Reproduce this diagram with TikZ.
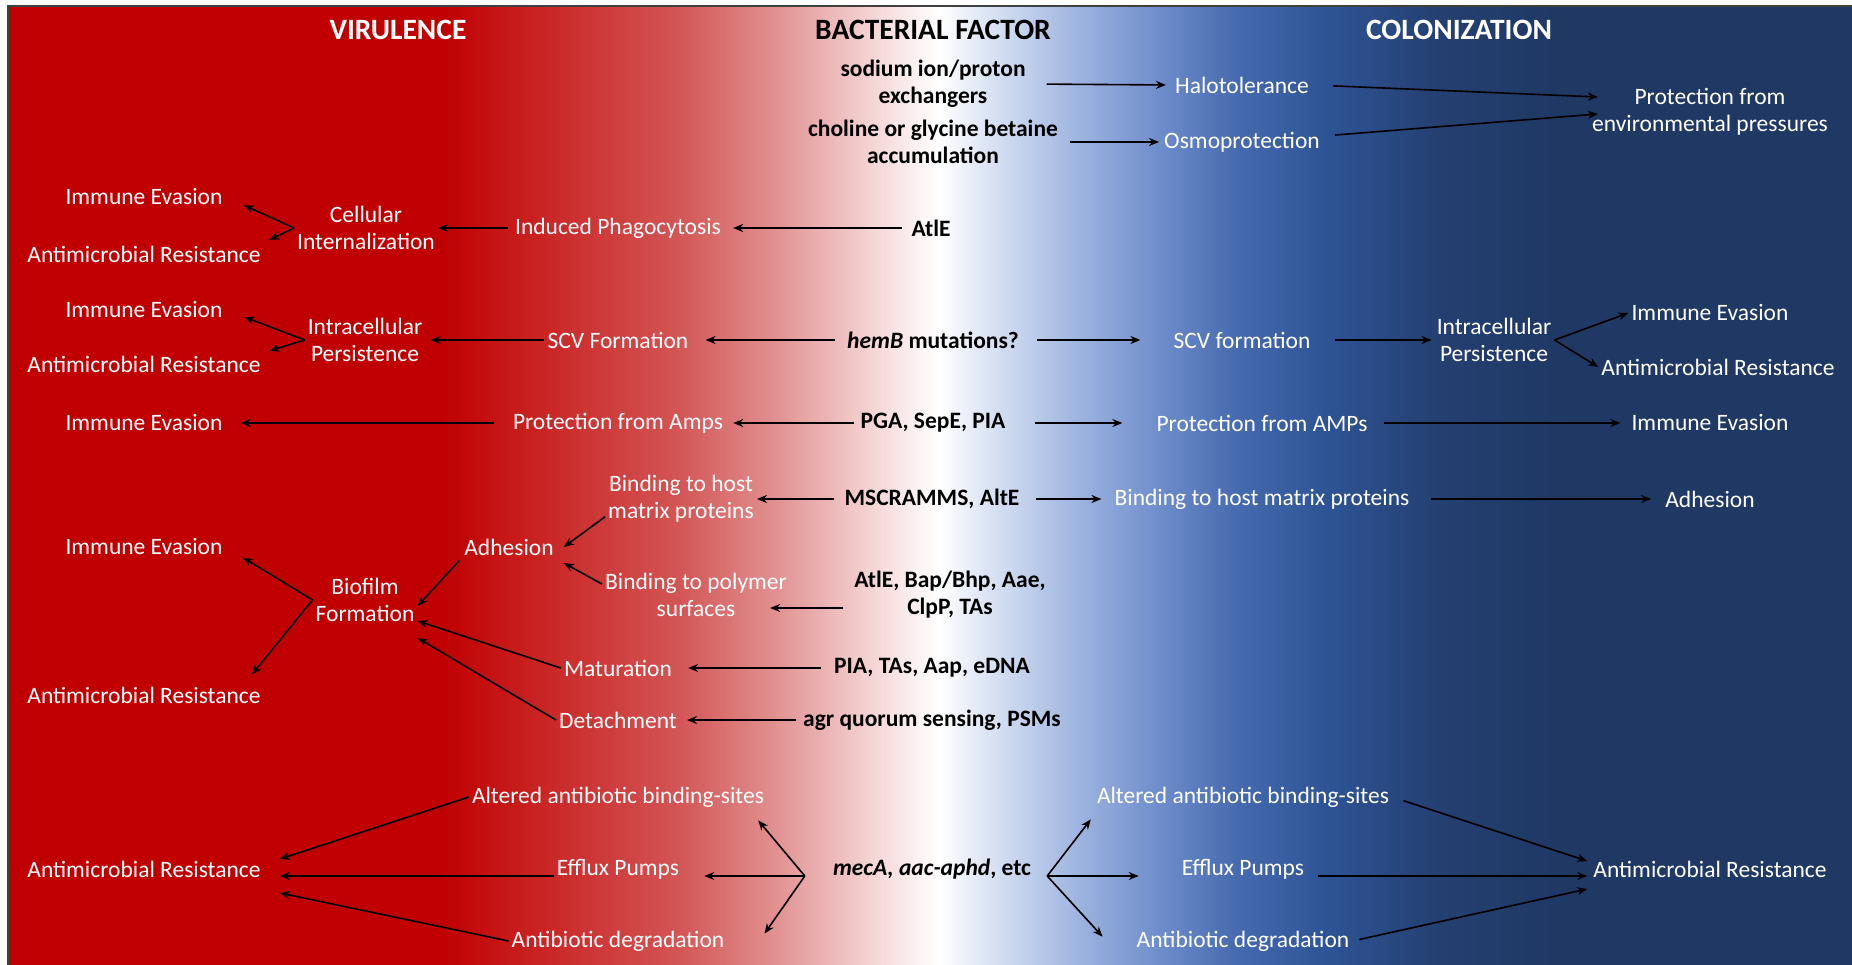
\documentclass[tikz,border=0pt]{standalone}
\usepackage{fontspec}
\setmainfont{Carlito}
\usetikzlibrary{arrows.meta,backgrounds,calc}

\definecolor{bgA}{HTML}{C00000}
\definecolor{bgB}{HTML}{CB2B2B}
\definecolor{bgC}{HTML}{D35656}
\definecolor{bgD}{HTML}{E29494}
\definecolor{bgE}{HTML}{F4D4D4}
\definecolor{bgF}{HTML}{FFFFFF}
\definecolor{bgG}{HTML}{D2DDF1}
\definecolor{bgH}{HTML}{9CB3DF}
\definecolor{bgI}{HTML}{6D8CCA}
\definecolor{bgJ}{HTML}{4569AD}
\definecolor{bgK}{HTML}{2F5597}
\definecolor{bgL}{HTML}{243F71}
\definecolor{bgM}{HTML}{1F3864}

\begin{document}
\begin{tikzpicture}[
  x=1pt, y=-1pt, >={Stealth[length=10pt,width=8pt]},
  font=\fontsize{23.5}{27}\selectfont,
  wt/.style={text=white, align=center, inner sep=3pt},
  fac/.style={text=black, align=center, inner sep=3pt,
              font=\fontsize{23.5}{27}\selectfont\bfseries},
  hd/.style={font=\fontsize{29.5}{34}\selectfont\bfseries, inner sep=3pt},
  arr/.style={->, line width=1.6pt, black},
]
  \useasboundingbox (0,0) rectangle (1852,965);

  \node[hd, text=white] (vir) at (398,30) {VIRULENCE};
  \node[hd] (bac) at (933,30) {BACTERIAL FACTOR};
  \node[hd, text=white] (col) at (1459,30) {COLONIZATION};

  \node[fac] (sod) at (933,84) {sodium ion/proton\\exchangers};
  \node[fac] (cho) at (933,142) {choline or glycine betaine\\accumulation};
  \node[fac] (atle) at (931,228) {AtlE};
  \node[fac] (hemb) at (933,340) {\textit{hemB} mutations?};
  \node[fac] (pga) at (933,423) {PGA, SepE, PIA};
  \node[fac] (msc) at (932,499) {MSCRAMMS, AltE};
  \node[fac] (bap) at (950,595) {AtlE, Bap/Bhp, Aae,\\ClpP, TAs};
  \node[fac] (pia) at (932,668) {PIA, TAs, Aap, eDNA};
  \node[fac] (agr) at (932,720) {agr quorum sensing, PSMs};
  \node[fac] (mec) at (932,869) {\textit{mecA, aac-aphd}, etc};

  \node[wt] (ie1) at (144,197) {Immune Evasion};
  \node[wt] (amr1) at (144,254) {Antimicrobial Resistance};
  \node[wt] (cell) at (366,228) {Cellular\\Internalization};
  \node[wt] (ind) at (618,228) {Induced Phagocytosis};
  \node[wt] (ie2) at (144,310) {Immune Evasion};
  \node[wt] (amr2) at (144,364) {Antimicrobial Resistance};
  \node[wt] (ip1) at (365,340) {Intracellular\\Persistence};
  \node[wt] (scv1) at (618,340) {SCV Formation};
  \node[wt] (ie4) at (144,423) {Immune Evasion};
  \node[wt] (prot1) at (618,423) {Protection from Amps};
  \node[wt] (bhm1) at (681,499) {Binding to host\\matrix proteins};
  \node[wt] (adh1) at (509,547) {Adhesion};
  \node[wt] (poly) at (696,595) {Binding to polymer\\surfaces};
  \node[wt] (bio) at (365,600) {Biofilm\\Formation};
  \node[wt] (ie6) at (144,547) {Immune Evasion};
  \node[wt] (amr4) at (144,695) {Antimicrobial Resistance};
  \node[wt] (mat) at (618,668) {Maturation};
  \node[wt] (det) at (618,720) {Detachment};
  \node[wt] (alt1) at (618,797) {Altered antibiotic binding-sites};
  \node[wt] (eff1) at (618,869) {Efflux Pumps};
  \node[wt] (deg1) at (618,941) {Antibiotic degradation};
  \node[wt] (amr5) at (144,869) {Antimicrobial Resistance};

  \node[wt] (halo) at (1242,85) {Halotolerance};
  \node[wt] (osmo) at (1242,142) {Osmoprotection};
  \node[wt] (env) at (1710,112) {Protection from\\environmental pressures};
  \node[wt] (scv2) at (1242,340) {SCV formation};
  \node[wt] (ip2) at (1494,340) {Intracellular\\Persistence};
  \node[wt] (ie3) at (1710,313) {Immune Evasion};
  \node[wt] (amr3) at (1718,367) {Antimicrobial Resistance};
  \node[wt] (prot2) at (1262,423) {Protection from AMPs};
  \node[wt] (ie5) at (1710,423) {Immune Evasion};
  \node[wt] (bhm2) at (1262,499) {Binding to host matrix proteins};
  \node[wt] (adh2) at (1710,499) {Adhesion};
  \node[wt] (alt2) at (1243,797) {Altered antibiotic binding-sites};
  \node[wt] (eff2) at (1243,869) {Efflux Pumps};
  \node[wt] (deg2) at (1243,941) {Antibiotic degradation};
  \node[wt] (amr6) at (1710,869) {Antimicrobial Resistance};

  \draw[arr, shorten <=18pt, shorten >=6pt] (sod.east) -- (halo.west);
  \draw[arr, shorten <=9pt, shorten >=2pt] (cho.east) -- (osmo.west);
  \draw[arr, shorten <=21pt] (halo.east) -- ([xshift=9pt,yshift=15pt]env.west);
  \draw[arr, shorten <=12pt] ([yshift=6pt]osmo.east) -- ([xshift=9pt,yshift=-2pt]env.west);

  \draw[arr, shorten <=6pt, shorten >=9pt] (atle.west) -- (ind.east);
  \draw[arr, shorten <=4pt] (ind.west) -- (cell.east);
  \draw[arr, shorten >=20pt] (cell.west) -- (ie1.east);
  \draw[arr, shorten >=6pt] (cell.west) -- (amr1.north east);

  \draw[arr, shorten <=9pt, shorten >=14pt] (hemb.west) -- (scv1.east);
  \draw[arr, shorten >=5pt] (scv1.west) -- (ip1.east);
  \draw[arr, shorten >=20pt] (ip1.west) -- (ie2.east);
  \draw[arr, shorten >=6pt] (ip1.west) -- (amr2.north east);
  \draw[arr, shorten <=15pt, shorten >=30pt] (hemb.east) -- (scv2.west);
  \draw[arr, shorten <=21pt, shorten >=2pt] (scv2.east) -- (ip2.west);
  \draw[arr] (ip2.east) -- (ie3.west);
  \draw[arr] (ip2.east) -- (amr3.west);

  \draw[arr, shorten <=3pt, shorten >=7pt] (pga.west) -- (prot1.east);
  \draw[arr, shorten <=16pt, shorten >=15pt] (prot1.west) -- (ie4.east);
  \draw[arr, shorten <=26pt, shorten >=31pt] (pga.east) -- (prot2.west);
  \draw[arr, shorten <=13pt, shorten >=8pt] (prot2.east) -- (ie5.west);

  \draw[arr, shorten <=7pt] (msc.west) -- (bhm1.east);
  \draw[arr, shorten <=13pt, shorten >=10pt] (msc.east) -- (bhm2.west);
  \draw[arr, shorten <=18pt, shorten >=11pt] (bhm2.east) -- (adh2.west);

  \draw[arr] ([yshift=9pt]bhm1.south west) -- ([xshift=7pt]adh1.east);
  \draw[arr] ([yshift=11pt]poly.west) -- ([xshift=7pt,yshift=-16pt]adh1.east);
  \draw[arr, shorten <=3pt] (adh1.south west) -- ([yshift=-6pt]bio.east);
  \draw[arr] (mat.west) -- ([yshift=-21pt]bio.east);
  \draw[arr] (det.west) -- ([yshift=-38pt]bio.east);
  \draw[arr, shorten <=10pt, shorten >=13pt] (pia.west) -- (mat.east);
  \draw[arr, shorten <=4pt, shorten >=7pt] (agr.west) -- (det.east);
  \draw[arr, shorten <=8pt] ([yshift=-13pt]bap.west) -- ([xshift=-20pt,yshift=-13pt]poly.east);
  \draw[arr, shorten >=20pt] (bio.west) -- (ie6.east);
  \draw[arr] (bio.west) -- ([xshift=-12pt,yshift=9pt]amr4.north east);

  \coordinate (mecl) at ([xshift=-25pt,yshift=-7pt]mec.west);
  \coordinate (mecr) at ([xshift=13pt,yshift=-7pt]mec.east);
  \draw[arr] (mecl) -- ([xshift=-9pt,yshift=-10pt]alt1.south east);
  \draw[arr] (mecl) -- ([xshift=22pt,yshift=-7pt]eff1.east);
  \draw[arr] (mecl) -- ([xshift=37pt,yshift=-6pt]deg1.north east);
  \draw[arr] (alt1.west) -- ([xshift=16pt,yshift=10pt]amr5.east);
  \draw[arr] ([yshift=-7pt]eff1.west) -- ([xshift=16pt,yshift=-7pt]amr5.east);
  \draw[arr] (deg1.west) -- ([xshift=16pt,yshift=-24pt]amr5.east);
  \draw[arr] (mecr) -- ([xshift=-3pt,yshift=-9pt]alt2.south west);
  \draw[arr] (mecr) -- ([xshift=-40pt,yshift=-7pt]eff2.west);
  \draw[arr] (mecr) -- ([xshift=-31pt,yshift=-9pt]deg2.north west);
  \draw[arr, shorten <=12pt] (alt2.east) -- ([xshift=-3pt,yshift=8pt]amr6.west);
  \draw[arr, shorten <=11pt] ([yshift=-7pt]eff2.east) -- ([xshift=-3pt,yshift=-7pt]amr6.west);
  \draw[arr, shorten <=7pt] (deg2.east) -- ([xshift=-3pt,yshift=-20pt]amr6.west);

  \begin{scope}[on background layer]
    \foreach \xa/\xb/\ca/\cb in {8/440/bgA/bgA, 440/560/bgA/bgB, 560/680/bgB/bgC,
        680/780/bgC/bgD, 780/870/bgD/bgE, 870/938/bgE/bgF, 938/1000/bgF/bgG,
        1000/1080/bgG/bgH, 1080/1160/bgH/bgI, 1160/1240/bgI/bgJ,
        1240/1320/bgJ/bgK, 1320/1440/bgK/bgL, 1440/1560/bgL/bgM, 1560/1852/bgM/bgM}
      \shade[left color=\ca, right color=\cb] (\xa,6) rectangle ([xshift=0.6pt]\xb,965);
    \draw[black!75, line width=1.5pt] (8,965) -- (8,6) -- (1852,6);
  \end{scope}
\end{tikzpicture}
\end{document}
